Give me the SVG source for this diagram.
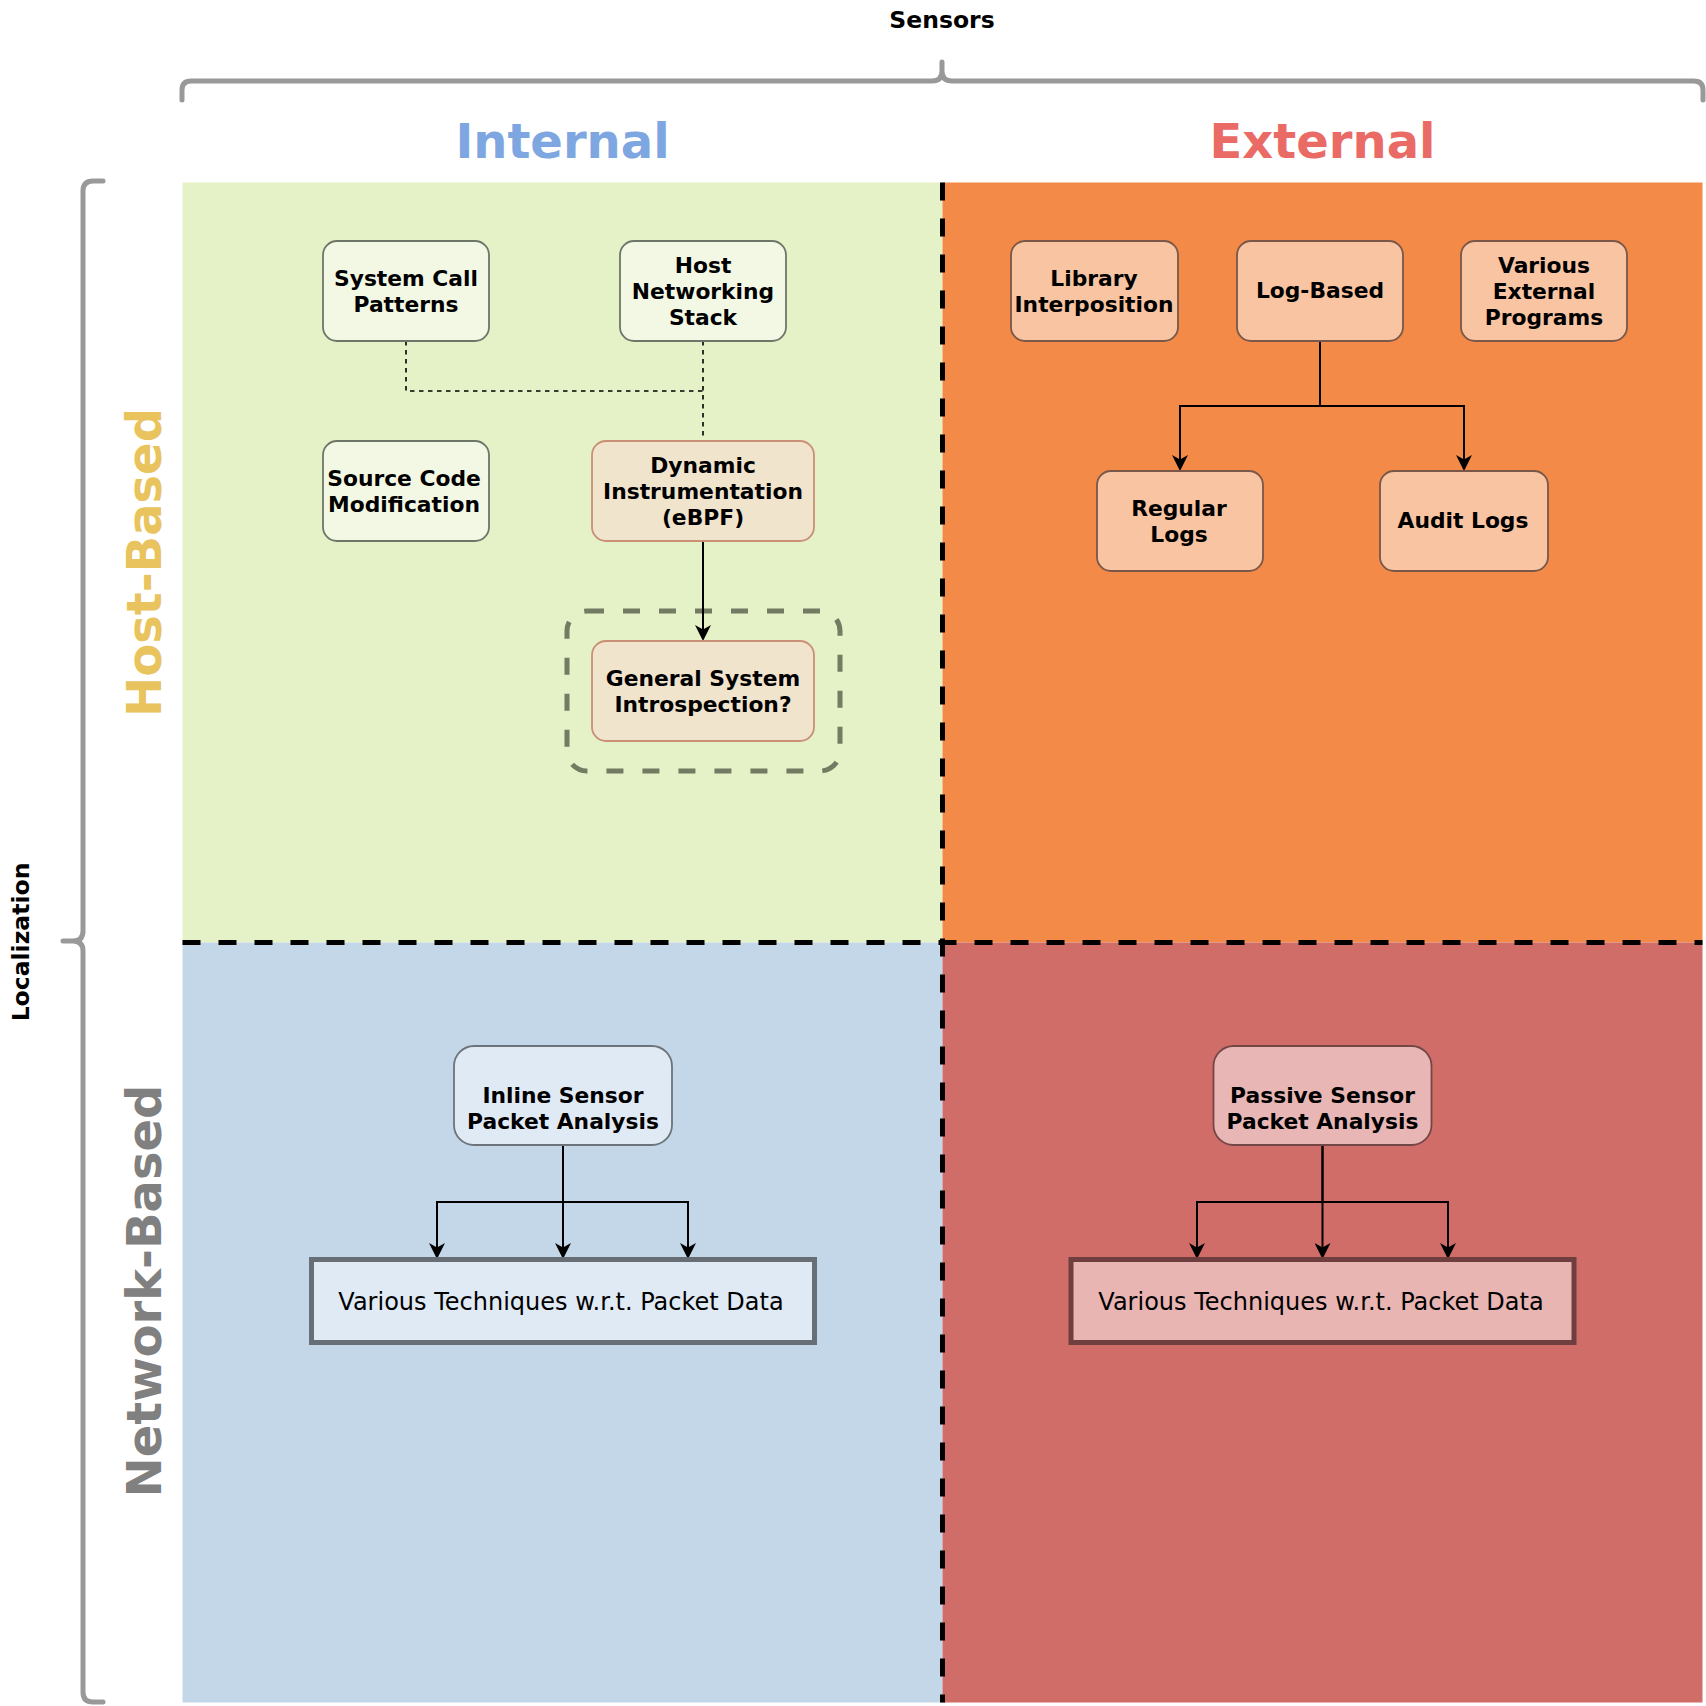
<svg xmlns="http://www.w3.org/2000/svg" width="1706" height="1706" viewBox="0 0 1706 1706">
<defs>
<style>
.bold{font-family:"DejaVu Sans",Verdana,sans-serif;font-weight:bold}
.reg{font-family:"DejaVu Sans",Verdana,sans-serif}
.nl{font-size:21.8px;text-anchor:middle;fill:#000}
.brace{fill:none;stroke:#999999;stroke-width:5;stroke-linecap:round;stroke-linejoin:round}
.sep{stroke:#000;stroke-width:5;stroke-dasharray:18 18;fill:none}
.conn{fill:none;stroke:#000;stroke-width:2}
.dot{fill:none;stroke:#000;stroke-width:1.6;stroke-dasharray:4.5 4.5}
.big{font-size:48px;text-anchor:middle}
.g1{fill:#f2f8e4;stroke:#6e7669;stroke-width:1.8}
.g2{fill:#f0e4cd;stroke:#c98f77;stroke-width:1.8}
.o1{fill:#f8c4a1;stroke:#7a5748;stroke-width:1.8}
.b1{fill:#e0eaf4;stroke:#6c737a;stroke-width:1.8}
.r1{fill:#e8b7b5;stroke:#744746;stroke-width:1.8}
</style>
<marker id="arr" viewBox="0 0 16 16" markerWidth="16" markerHeight="16" refX="10" refY="8" orient="auto" markerUnits="userSpaceOnUse">
<path d="M0,0 L16,8 L0,16 L4.5,8 Z" fill="#000"/>
</marker>
</defs>
<rect width="1706" height="1706" fill="#ffffff"/>

<g id="quadrants">
<rect x="182.5" y="182.5" width="760" height="760" fill="#e5f1c6"/>
<rect x="942.5" y="182.5" width="760" height="760" fill="#f38a47"/>
<rect x="182.5" y="942.5" width="760" height="760" fill="#c4d7e8"/>
<rect x="942.5" y="942.5" width="760" height="760" fill="#d16d69"/>
</g>

<g id="separators">
<line class="sep" x1="942.5" y1="182.5" x2="942.5" y2="1702.5"/>
<line class="sep" x1="182.5" y1="942.5" x2="1702.5" y2="942.5"/>
</g>

<g id="braces">
<path class="brace" d="M182,100 V90 Q182,81 191,81 H932 Q942,81 942,71 V62 M942,62 V71 Q942,81 952,81 H1694 Q1703,81 1703,90 V100"/>
<path class="brace" d="M103,181 H93 Q83,181 83,191 V931 Q83,941 73,941 H63 M63,941 H73 Q83,941 83,951 V1692 Q83,1702 93,1702 H103"/>
</g>

<g id="labels">
<text class="bold" x="942" y="28" font-size="23.5" text-anchor="middle" fill="#000">Sensors</text>
<text class="bold big" x="562.5" y="158" fill="#7ea6e0">Internal</text>
<text class="bold big" x="1322.5" y="158" fill="#ea6b66">External</text>
<text class="bold" transform="translate(29,942) rotate(-90)" font-size="23.5" text-anchor="middle" fill="#000">Localization</text>
<text class="bold big" transform="translate(161,562.5) rotate(-90)" fill="#e8c35e">Host-Based</text>
<text class="bold big" transform="translate(161,1291) rotate(-90)" fill="#808080">Network-Based</text>
</g>

<g id="container-introspection">
<rect x="567" y="611" width="273" height="160" rx="20" fill="none" stroke="#737b62" stroke-width="5" stroke-dasharray="17 19"/>
</g>

<g id="connectors">
<path class="dot" d="M406,341 V391 H703"/>
<path class="dot" d="M703,341 V441"/>
<path class="conn" d="M703,541 V635" marker-end="url(#arr)"/>
<path class="conn" d="M1320,341 V406 H1180 V465" marker-end="url(#arr)"/>
<path class="conn" d="M1320,406 H1464 V465" marker-end="url(#arr)"/>
<path class="conn" d="M563,1145 V1202 H437 V1253" marker-end="url(#arr)"/>
<path class="conn" d="M563,1145 V1253" marker-end="url(#arr)"/>
<path class="conn" d="M563,1202 H688 V1253" marker-end="url(#arr)"/>
<path class="conn" d="M1322.5,1145 V1202 H1197 V1253" marker-end="url(#arr)"/>
<path class="conn" d="M1322.5,1145 V1253" marker-end="url(#arr)"/>
<path class="conn" d="M1322.5,1202 H1448 V1253" marker-end="url(#arr)"/>
</g>

<g id="node-syscall">
<rect class="g1" x="323" y="241" width="166" height="100" rx="14"/>
<text class="bold nl" x="406" y="286">System Call</text>
<text class="bold nl" x="406" y="312">Patterns</text>
</g>
<g id="node-hoststack">
<rect class="g1" x="620" y="241" width="166" height="100" rx="14"/>
<text class="bold nl" x="703" y="273">Host</text>
<text class="bold nl" x="703" y="299">Networking</text>
<text class="bold nl" x="703" y="325">Stack</text>
</g>
<g id="node-sourcecode">
<rect class="g1" x="323" y="441" width="166" height="100" rx="14"/>
<text class="bold nl" x="404" y="486">Source Code</text>
<text class="bold nl" x="404" y="512">Modification</text>
</g>
<g id="node-ebpf">
<rect class="g2" x="592" y="441" width="222" height="100" rx="14"/>
<text class="bold nl" x="703" y="473">Dynamic</text>
<text class="bold nl" x="703" y="499">Instrumentation</text>
<text class="bold nl" x="703" y="525">(eBPF)</text>
</g>
<g id="node-introspection">
<rect class="g2" x="592" y="641" width="222" height="100" rx="14"/>
<text class="bold nl" x="703" y="686">General System</text>
<text class="bold nl" x="703" y="712">Introspection?</text>
</g>

<g id="node-libinterp">
<rect class="o1" x="1011" y="241" width="167" height="100" rx="14"/>
<text class="bold nl" x="1094" y="286">Library</text>
<text class="bold nl" x="1094" y="312">Interposition</text>
</g>
<g id="node-logbased">
<rect class="o1" x="1237" y="241" width="166" height="100" rx="14"/>
<text class="bold nl" x="1320" y="298">Log-Based</text>
</g>
<g id="node-extprograms">
<rect class="o1" x="1461" y="241" width="166" height="100" rx="14"/>
<text class="bold nl" x="1544" y="273">Various</text>
<text class="bold nl" x="1544" y="299">External</text>
<text class="bold nl" x="1544" y="325">Programs</text>
</g>
<g id="node-regularlogs">
<rect class="o1" x="1097" y="471" width="166" height="100" rx="14"/>
<text class="bold nl" x="1179" y="516">Regular</text>
<text class="bold nl" x="1179" y="542">Logs</text>
</g>
<g id="node-auditlogs">
<rect class="o1" x="1380" y="471" width="168" height="100" rx="14"/>
<text class="bold nl" x="1463" y="528">Audit Logs</text>
</g>

<g id="node-inline">
<rect class="b1" x="454" y="1046" width="218" height="99" rx="20"/>
<text class="bold nl" x="563" y="1103">Inline Sensor</text>
<text class="bold nl" x="563" y="1129">Packet Analysis</text>
</g>
<g id="node-inline-techniques">
<rect x="311.5" y="1259.5" width="503" height="83" fill="#e0eaf4" stroke="#686e75" stroke-width="5"/>
<text class="reg" x="561" y="1309.5" font-size="24" text-anchor="middle" fill="#000">Various Techniques w.r.t. Packet Data</text>
</g>
<g id="node-passive">
<rect class="r1" x="1213.5" y="1046" width="218" height="99" rx="20"/>
<text class="bold nl" x="1322.5" y="1103">Passive Sensor</text>
<text class="bold nl" x="1322.5" y="1129">Packet Analysis</text>
</g>
<g id="node-passive-techniques">
<rect x="1071" y="1259.5" width="503" height="83" fill="#e8b5b3" stroke="#6e3f3e" stroke-width="5"/>
<text class="reg" x="1321" y="1309.5" font-size="24" text-anchor="middle" fill="#000">Various Techniques w.r.t. Packet Data</text>
</g>
</svg>
